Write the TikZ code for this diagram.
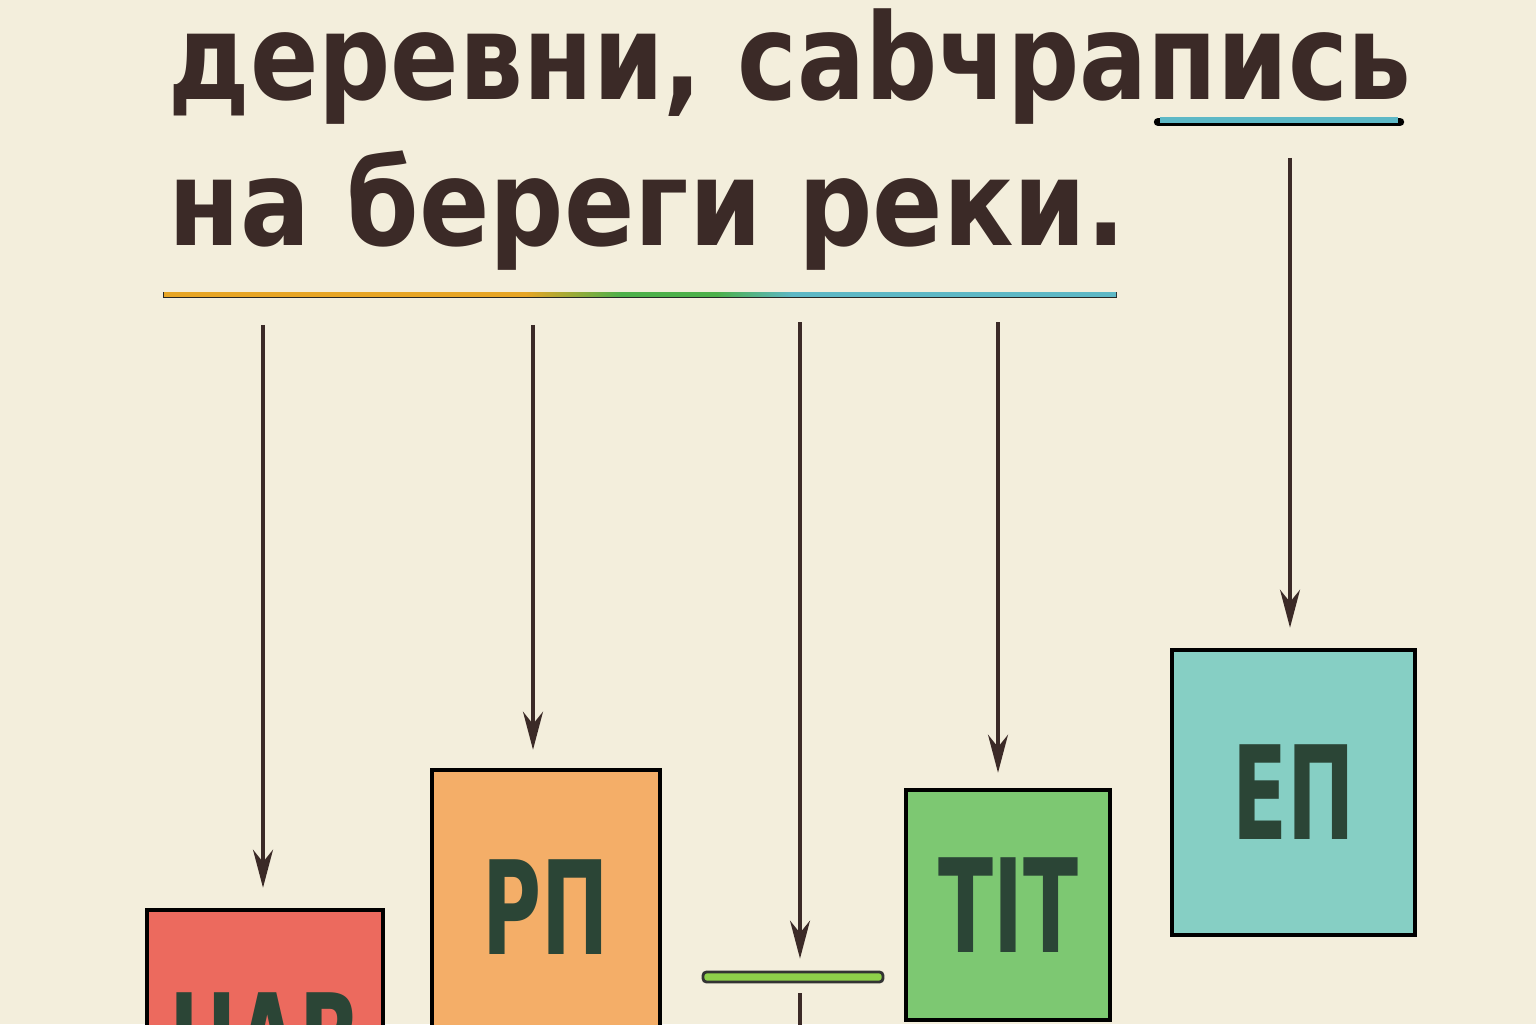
\documentclass[tikz,border=0pt]{standalone}
\usepackage{fontspec}
\setmainfont{DejaVu Sans}
\usetikzlibrary{arrows.meta,positioning,calc}

\definecolor{carta}{HTML}{F3EEDC}
\definecolor{inchiostro}{HTML}{3B2A27}
\definecolor{lettera}{HTML}{2B4536}
\definecolor{rosso}{HTML}{EC6A5E}
\definecolor{arancio}{HTML}{F4AE68}
\definecolor{verdino}{HTML}{7DC872}
\definecolor{acquamarina}{HTML}{86CFC4}
\definecolor{barra}{HTML}{8ED04A}
\definecolor{ocra}{HTML}{E6A526}
\definecolor{verde}{HTML}{4DB04A}
\definecolor{acqua}{HTML}{5DB8C6}

\pgfdeclarehorizontalshading{riga}{100bp}{color(0bp)=(ocra); color(44bp)=(ocra); color(49bp)=(verde); color(54bp)=(verde); color(58bp)=(acqua); color(100bp)=(acqua)}

\newcommand{\stretto}[1]{\scalebox{.62}[1]{#1}}

\begin{document}
\begin{tikzpicture}[x=1cm,y=1cm,
    testo/.style={font=\bfseries\fontsize{34}{34}\selectfont, text=inchiostro, inner sep=0pt, anchor=base west},
    freccia/.style={-{Stealth[length=3.8mm,width=2mm]}, line width=.9pt, draw=inchiostro},
    scatola/.style={draw=black, line width=1.3pt, inner sep=0pt, text=lettera, font=\bfseries\fontsize{37}{37}\selectfont}]

    \useasboundingbox (0,0) rectangle (15.36,10.24);
    \clip (0,0) rectangle (15.36,10.24);
    \fill[carta] (0,0) rectangle (15.36,10.24);

    % frase
    \node[testo, xscale=.845] (riga1) at (1.68,9.24) {деревни, саbчрапись};
    \node[testo, xscale=.87] (riga2) at (1.68,7.79) {на береги реки.};

    % sottolineature
    \draw[black, line width=2.4pt, line cap=round] (11.58,9.02) -- (14.00,9.02);
    \draw[acqua, line width=1.5pt] (11.60,9.04) -- (13.98,9.04);
    \fill[black!85] (1.63,7.255) rectangle (11.17,7.325);
    \shade[shading=riga] (1.64,7.275) rectangle (11.16,7.315);

    % caselle
    \node[scatola, fill=rosso, minimum width=2.36cm, minimum height=2.6cm] (nav) at (2.65,-0.16) {\stretto{НАВ}};
    \node[scatola, fill=arancio, minimum width=2.28cm, minimum height=2.74cm] (rp) at (5.46,1.17) {\stretto{РП}};
    \node[draw=black!80, line width=.8pt, fill=barra, rounded corners=1pt, minimum width=1.8cm, minimum height=.1cm, inner sep=0pt] (bar) at (7.93,0.47) {};
    \node[scatola, fill=verdino, minimum width=2.04cm, minimum height=2.3cm] (tp) at (10.08,1.19) {\stretto{ТIТ}};
    \node[scatola, fill=acquamarina, minimum width=2.43cm, minimum height=2.85cm] (ep) at (12.935,2.315) {\stretto{ЕП}};

    % frecce
    \coordinate (s1) at (2.63,6.99);
    \coordinate (s2) at (5.33,6.99);
    \coordinate (s3) at (8.00,7.02);
    \coordinate (s4) at (9.98,7.02);
    \coordinate (s5) at (12.90,8.66);
    \coordinate (e3) at (8.00,-0.2);

    \draw[freccia, shorten >=.2cm] (s1) -- (s1 |- nav.north);
    \draw[freccia, shorten >=.18cm] (s2) -- (s2 |- rp.north);
    \draw[freccia, shorten >=.12cm] (s3) -- (s3 |- bar.north);
    \draw[line width=.9pt, draw=inchiostro, shorten <=.1cm] (s3 |- bar.south) -- (e3);
    \draw[freccia, shorten >=.15cm] (s4) -- (s4 |- tp.north);
    \draw[freccia, shorten >=.2cm] (s5) -- (s5 |- ep.north);
\end{tikzpicture}
\end{document}
